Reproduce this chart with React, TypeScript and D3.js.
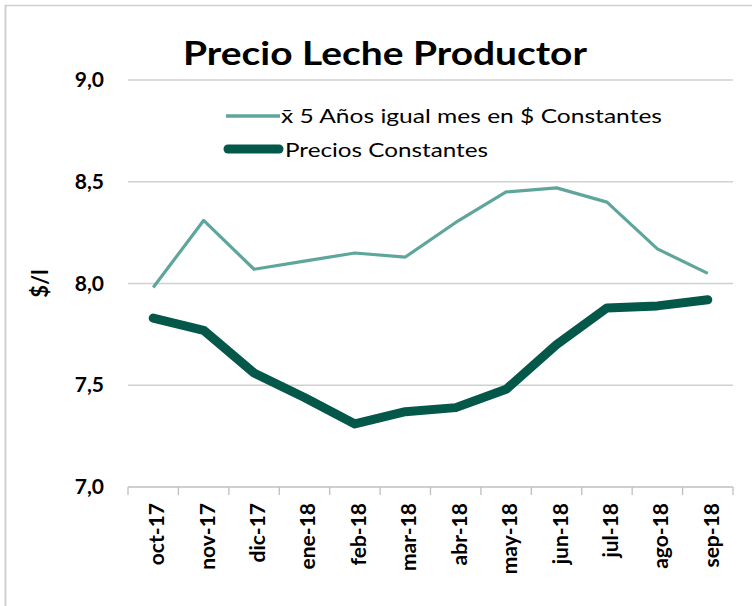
import React from "react";
import * as d3 from "d3";

const categories = ["oct-17","nov-17","dic-17","ene-18","feb-18","mar-18","abr-18","may-18","jun-18","jul-18","ago-18","sep-18"];
const avg5y = [7.98, 8.31, 8.07, 8.11, 8.15, 8.13, 8.30, 8.45, 8.47, 8.40, 8.17, 8.05];
const constPrices = [7.83, 7.77, 7.56, 7.44, 7.31, 7.37, 7.39, 7.48, 7.70, 7.88, 7.89, 7.92];
const yTicks = [7.0, 7.5, 8.0, 8.5, 9.0];
const seriesNames = ["x̄ 5 Años igual mes en $ Constantes", "Precios Constantes"];

const FONT = "Lato, 'Open Sans', sans-serif";
const LIGHT = "#5ea69b";
const DARK = "#03584a";

export default function App() {
  const W = 752, H = 606;
  const x = d3.scaleBand<string>().domain(categories).range([128, 733]).padding(0);
  const y = d3.scaleLinear().domain([7, 9]).range([487, 80]);
  const cx = (c: string) => (x(c) as number) + x.bandwidth() / 2;
  const line = d3.line<number>().x((_, i) => cx(categories[i])).y((v) => y(v));
  const fmt = (v: number) => v.toFixed(1).replace(".", ",");
  const boundaries = [...categories.map((c) => x(c) as number), 733];

  return (
    <svg width={W} height={H} style={{ position: "absolute", left: 0, top: 0, fontFamily: FONT }}>
      <rect x={0} y={0} width={W} height={H} fill="#fff" />
      <line x1={5.5} y1={5} x2={5.5} y2={H} stroke="#d0d0d0" strokeWidth={2} />
      <line x1={5} y1={5.5} x2={W} y2={5.5} stroke="#d0d0d0" strokeWidth={1.5} />
      <text x={385} y={65} textAnchor="middle" fontSize={32} fontWeight="bold" fill="#000" textLength={404} lengthAdjust="spacingAndGlyphs">Precio Leche Productor</text>
      {yTicks.map((t) => (
        <g key={t}>
          {t > 7 && <line x1={128} x2={733} y1={y(t)} y2={y(t)} stroke="#d0d0d0" strokeWidth={1.3} />}
          <text x={104} y={y(t) + 7} textAnchor="end" fontSize={21} fontWeight="bold" fill="#000">{fmt(t)}</text>
        </g>
      ))}
      <line x1={128} x2={733} y1={y(7)} y2={y(7)} stroke="#bfbfbf" strokeWidth={1.3} />
      {boundaries.map((b, i) => (
        <line key={i} x1={b} x2={b} y1={y(7)} y2={y(7) + 8} stroke="#bfbfbf" strokeWidth={1.3} />
      ))}
      {categories.map((c) => (
        <text key={c} transform={`translate(${cx(c) + 11},503) rotate(-90)`} textAnchor="end" fontSize={21} fontWeight="bold" fill="#000">{c}</text>
      ))}
      <text transform={`translate(48,${y(8)}) rotate(-90)`} textAnchor="middle" fontSize={22} fontWeight="bold" fill="#000">$/l</text>
      <path d={line(avg5y) || ""} fill="none" stroke={LIGHT} strokeWidth={3.2} strokeLinejoin="round" />
      <path d={line(constPrices) || ""} fill="none" stroke={DARK} strokeWidth={9} strokeLinejoin="round" strokeLinecap="round" />
      <line x1={226} x2={280} y1={116} y2={116} stroke={LIGHT} strokeWidth={3.5} />
      <text x={281} y={123} fontSize={20} fill="#000" textLength={381} lengthAdjust="spacingAndGlyphs">{seriesNames[0]}</text>
      <line x1={228} x2={279} y1={149} y2={149} stroke={DARK} strokeWidth={9} strokeLinecap="round" />
      <text x={285} y={157} fontSize={20} fill="#000" textLength={203} lengthAdjust="spacingAndGlyphs">{seriesNames[1]}</text>
    </svg>
  );
}
